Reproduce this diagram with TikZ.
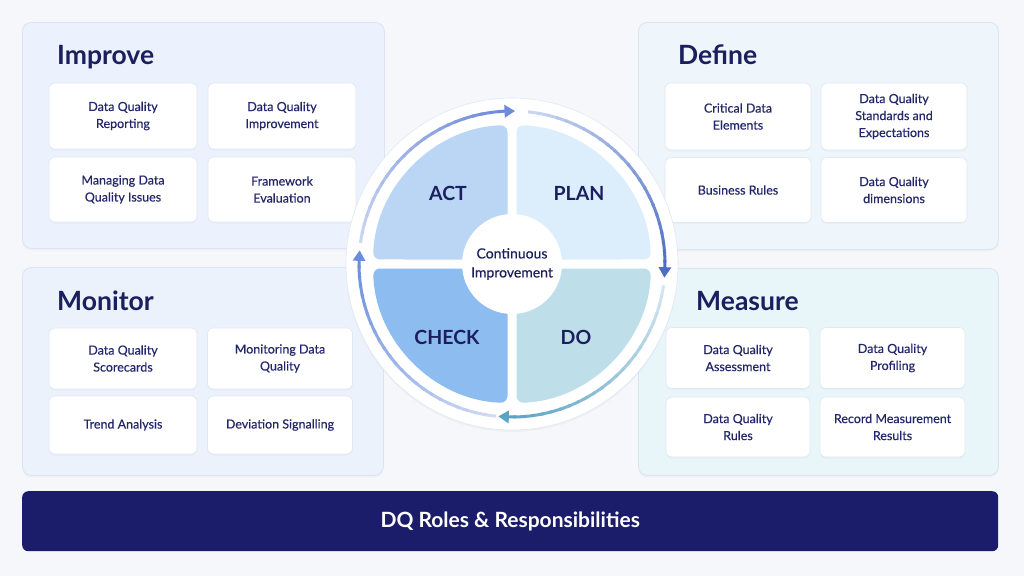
\documentclass[tikz,border=0pt]{standalone}
\usepackage{fontspec}
\setmainfont{Lato}
\newfontfamily\medfont{Lato}[FakeBold=0.35]
\usetikzlibrary{shadows}
\definecolor{bgc}{HTML}{F5F7FA}
\definecolor{navy}{HTML}{1B1F5E}
\definecolor{boxtext}{HTML}{23276A}
\definecolor{barc}{HTML}{1C1D6A}
\definecolor{pimp}{HTML}{EBF2FD}
\definecolor{pdef}{HTML}{EEF5FB}
\definecolor{pmon}{HTML}{EBF2FC}
\definecolor{pmea}{HTML}{E8F6FA}
\definecolor{pborder}{HTML}{D9E4F4}
\definecolor{bborder}{HTML}{E0E8F4}
\definecolor{actc}{HTML}{BBD6F5}
\definecolor{planc}{HTML}{DCEEFC}
\definecolor{checkc}{HTML}{8DBDF0}
\definecolor{doc}{HTML}{BEDFEA}
\definecolor{aone}{HTML}{C9D6F2}
\definecolor{atwo}{HTML}{6E8AD8}
\definecolor{bone}{HTML}{C9D6F0}
\definecolor{btwo}{HTML}{4E6DC6}
\definecolor{cone}{HTML}{D2E6F0}
\definecolor{ctwo}{HTML}{5BA3C3}
\definecolor{done}{HTML}{D0DBF3}
\definecolor{dtwo}{HTML}{6A8EDB}
\begin{document}
\begin{tikzpicture}[x=1pt,y=-1pt,
  panel/.style={draw=pborder, line width=0.8pt, rounded corners=9pt, inner sep=0pt, anchor=north west,
    drop shadow={opacity=0.05, shadow xshift=0pt, shadow yshift=-2pt}},
  itembox/.style={draw=bborder, line width=0.6pt, fill=white, rounded corners=6pt, inner sep=0pt,
    align=center, text=boxtext, font=\medfont\fontsize{12.5}{17}\selectfont,
    drop shadow={opacity=0.05, shadow xshift=0pt, shadow yshift=-1.5pt}},
  ptitle/.style={anchor=base west, text=navy, inner sep=0pt, font=\bfseries\fontsize{26.5}{30}\selectfont},
  phase/.style={text=navy, font=\bfseries\fontsize{19.5}{22}\selectfont},
]
\useasboundingbox (0,0) rectangle (1024,576);
\fill[bgc] (0,0) rectangle (1024,576);

% panels
\node[panel, fill=pimp, minimum width=362pt, minimum height=226pt] (pimprove) at (22,22) {};
\node[panel, fill=pdef, minimum width=360pt, minimum height=227pt] (pdefine) at (638,22) {};
\node[panel, fill=pmon, minimum width=361pt, minimum height=208pt] (pmonitor) at (22,267) {};
\node[panel, fill=pmea, minimum width=360pt, minimum height=207pt] (pmeasure) at (638,268) {};

% titles
\node[ptitle] (timprove) at (57,64) {Improve};
\node[ptitle] (tdefine) at (678,64) {Define};
\node[ptitle] (tmonitor) at (57,310) {Monitor};
\node[ptitle] (tmeasure) at (696,310) {Measure};

% Improve boxes
\node[itembox, minimum width=148pt, minimum height=66pt] (i1) at (123,116) {Data Quality\\Reporting};
\node[itembox, minimum width=148pt, minimum height=66pt] (i2) at (282,116) {Data Quality\\Improvement};
\node[itembox, minimum width=148pt, minimum height=65pt] (i3) at (123,189.5) {Managing Data\\Quality Issues};
\node[itembox, minimum width=148pt, minimum height=65pt] (i4) at (282,189.5) {Framework\\Evaluation};

% Define boxes
\node[itembox, minimum width=146pt, minimum height=67pt] (d1) at (738,116.5) {Critical Data\\Elements};
\node[itembox, minimum width=146pt, minimum height=67pt] (d2) at (894,116.5) {Data Quality\\Standards and\\Expectations};
\node[itembox, minimum width=146pt, minimum height=65pt] (d3) at (738,190) {Business Rules};
\node[itembox, minimum width=146pt, minimum height=65pt] (d4) at (894,190) {Data Quality\\dimensions};

% Monitor boxes
\node[itembox, minimum width=148pt, minimum height=61pt] (m1) at (123,358.5) {Data Quality\\Scorecards};
\node[itembox, minimum width=145pt, minimum height=61pt] (m2) at (280,358.5) {Monitoring Data\\Quality};
\node[itembox, minimum width=148pt, minimum height=58pt] (m3) at (123,425) {Trend Analysis};
\node[itembox, minimum width=145pt, minimum height=58pt] (m4) at (280,425) {Deviation Signalling};

% Measure boxes
\node[itembox, minimum width=144pt, minimum height=61pt] (s1) at (738,358) {Data Quality\\Assessment};
\node[itembox, minimum width=145pt, minimum height=61pt] (s2) at (892.5,358) {Data Quality\\Profiling};
\node[itembox, minimum width=144pt, minimum height=60pt] (s3) at (738,427) {Data Quality\\Rules};
\node[itembox, minimum width=145pt, minimum height=60pt] (s4) at (892.5,427) {Record Measurement\\Results};

% cycle disc
\node[circle, fill=white, draw=bborder, line width=0.6pt, minimum size=332pt, inner sep=0pt,
  drop shadow={opacity=0.06, shadow xshift=0pt, shadow yshift=-2pt}] (disc) at (512,264) {};

\begin{scope}[shift={(512,264)}, yscale=-1]
  \foreach \a/\col in {0/planc, 90/actc, 180/checkc, 270/doc} {
    \pgfmathsetmacro\pa{\a+45}
    \pgfmathsetmacro\pb{\a+88.14}
    \pgfmathsetmacro\pc{\a+1.86}
    \fill[\col, rounded corners=7pt] (\pa:6.36) -- (\pb:139) arc[start angle=\pb, end angle=\pc, radius=139] -- cycle;
  }
  \foreach \s/\e/\ca/\cb in {172/92/aone/atwo, 84/-2/bone/btwo, -8/-92/cone/ctwo, -96/-182/done/dtwo} {
    \foreach \i in {0,...,23} {
      \pgfmathsetmacro\aa{\s+(\e-\s)*\i/24}
      \pgfmathsetmacro\bb{\s+(\e-\s)*(\i+1.3)/24}
      \pgfmathtruncatemacro\p{100*\i/23}
      \draw[line width=3pt, color=\cb!\p!\ca] (\aa:153) arc[start angle=\aa, end angle=\bb, radius=153];
    }
    \pgfmathsetmacro\tip{\e-3.1}
    \pgfmathsetmacro\bas{\e+0.8}
    \fill[\cb] (\tip:153) -- (\bas:159.5) -- (\bas:146.5) -- cycle;
  }
\end{scope}

\node[phase] (act) at (448,193) {ACT};
\node[phase] (plan) at (579,193) {PLAN};
\node[phase] (check) at (447,337) {CHECK};
\node[phase] (do) at (576,337) {DO};

\node[circle, fill=white, minimum size=100pt, inner sep=0pt, align=center, text=navy,
  font=\medfont\fontsize{14}{19}\selectfont] (center) at (512,264) {Continuous\\Improvement};

% bottom bar
\node[fill=barc, rounded corners=6pt, minimum width=976pt, minimum height=60pt, inner sep=0pt,
  anchor=north west, text=white, font=\bfseries\fontsize{21}{24}\selectfont] (roles) at (22,491) {DQ Roles \& Responsibilities};
\end{tikzpicture}
\end{document}
